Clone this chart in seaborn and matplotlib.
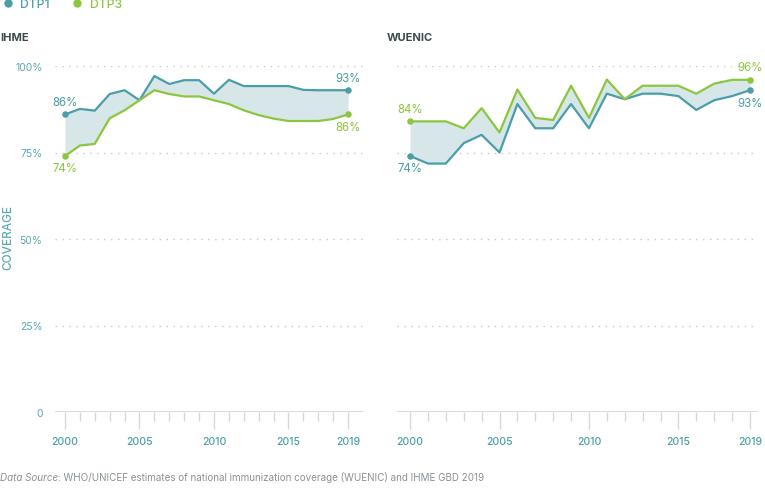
import pandas as pd
import matplotlib.pyplot as plt
import seaborn as sns
from matplotlib.lines import Line2D

# --- DATA ---
YEARS = list(range(2000, 2020))

IHME_DTP1 = [86, 87.6, 87.1, 91.9, 93.0, 90.1, 97.1, 94.8, 95.9, 95.9,
             92.0, 96.0, 94.2, 94.2, 94.2, 94.2, 93.1, 93, 93, 93]
IHME_DTP3 = [74, 77.0, 77.5, 84.9, 87.2, 90.1, 93.0, 91.9, 91.2, 91.2,
             90.1, 89.0, 87.2, 85.8, 84.8, 84.1, 84.1, 84.1, 84.7, 86]

WUENIC_DTP1 = [74, 71.8, 71.8, 77.7, 80.1, 75.0, 89.0, 82.0, 82.0, 89.0,
               82.0, 92.0, 90.4, 92.0, 92.0, 91.3, 87.3, 90.1, 91.3, 93]
WUENIC_DTP3 = [84, 84, 84, 82.0, 87.8, 80.8, 93.2, 85.0, 84.4, 94.3,
               85.0, 96.1, 90.4, 94.3, 94.3, 94.3, 92.0, 94.9, 96, 96]

SOURCES = ['IHME', 'WUENIC']
VACCINES = ['DTP1', 'DTP3']
MAJOR_YEARS = [2000, 2005, 2010, 2015, 2019]
Y_TICKS = [0, 25, 50, 75, 100]
Y_LABELS = ['0', '25%', '50%', '75%', '100%']

# --- STYLE ---
TEAL = '#4a9ea7'
GREEN = '#8cc63f'
FILL = '#d7e7e9'
LABEL_TEAL = '#5aa9b1'
GRID = '#c8c8c8'
BASE = '#d3d9db'
TITLE = '#3c4b50'
SOURCE_GRAY = '#8b9196'
COLORS = {'DTP1': TEAL, 'DTP3': GREEN}

sns.set_theme(style='white')
plt.rcParams['font.family'] = ['Inter', 'DejaVu Sans']

rows = []
for src, d1, d3 in [('IHME', IHME_DTP1, IHME_DTP3), ('WUENIC', WUENIC_DTP1, WUENIC_DTP3)]:
    for yr, a, b in zip(YEARS, d1, d3):
        rows.append({'source': src, 'year': yr, 'vaccine': 'DTP1', 'coverage': a})
        rows.append({'source': src, 'year': yr, 'vaccine': 'DTP3', 'coverage': b})
df = pd.DataFrame(rows)

fig = plt.figure(figsize=(7.65, 4.89), dpi=100)
ax_l = fig.add_axes([55 / 765, 76 / 489, 308 / 765, 346 / 489])
ax_r = fig.add_axes([397 / 765, 76 / 489, 361 / 765, 346 / 489])
axes = {'IHME': ax_l, 'WUENIC': ax_r}
xlims = {'IHME': (1999.33, 2020.0), 'WUENIC': (1999.27, 2019.45)}

# which endpoint label goes above (+) or below (-) the dot
label_side = {
    ('IHME', 'DTP1'): (1, 1), ('IHME', 'DTP3'): (-1, -1),
    ('WUENIC', 'DTP1'): (-1, -1), ('WUENIC', 'DTP3'): (1, 1),
}

for src in SOURCES:
    ax = axes[src]
    sub = df[df['source'] == src]
    wide = sub.pivot(index='year', columns='vaccine', values='coverage')
    ax.fill_between(wide.index, wide['DTP1'], wide['DTP3'], color=FILL, lw=0, zorder=1)
    sns.lineplot(data=sub, x='year', y='coverage', hue='vaccine', palette=COLORS,
                 linewidth=1.6, legend=False, ax=ax, zorder=3)

    for vac in VACCINES:
        vals = wide[vac]
        ends = [(YEARS[0], vals.iloc[0]), (YEARS[-1], vals.iloc[-1])]
        for (yr, v), side in zip(ends, label_side[(src, vac)]):
            ax.scatter([yr], [v], s=22, color=COLORS[vac], zorder=4, clip_on=False, lw=0)
            ax.annotate(f'{v:.0f}%', (yr, v), xytext=(0, 9 * side), textcoords='offset points',
                        ha='center', va='center', fontsize=8.3, color=COLORS[vac],
                        annotation_clip=False)

    ax.set_xlim(*xlims[src])
    ax.set_ylim(0, 100)
    ax.set_yticks(Y_TICKS)
    ax.set_yticklabels(Y_LABELS)
    ax.set_xticks(MAJOR_YEARS)
    ax.set_xticks(YEARS, minor=True)
    ax.set_xticklabels([str(y) for y in MAJOR_YEARS], fontweight='medium')
    ax.set_xlabel('')
    ax.set_ylabel('')
    for s in ax.spines.values():
        s.set_visible(False)
    ax.grid(axis='y', color=GRID, linestyle=(0, (1, 4)), linewidth=1)
    ax.grid(axis='x', visible=False)
    ax.axhline(0, color=BASE, lw=2, zorder=2)
    ax.tick_params(axis='x', which='major', direction='out', length=12, width=1,
                   color=BASE, labelcolor=TEAL, labelsize=7.5, pad=5, bottom=True)
    ax.tick_params(axis='x', which='minor', direction='out', length=6.5, width=1,
                   color=BASE, bottom=True)
    ax.tick_params(axis='y', length=0, labelcolor=LABEL_TEAL, labelsize=7.5, pad=9)
    ax.set_title('')

ax_r.tick_params(axis='y', labelleft=False)

fig.text(0, 1 - 38 / 489, 'IHME', fontsize=8, fontweight='bold', color=TITLE, va='center')
fig.text(387 / 765, 1 - 38 / 489, 'WUENIC', fontsize=8, fontweight='bold', color=TITLE, va='center')
fig.text(8 / 765, 1 - 238 / 489, 'COVERAGE', rotation=90, fontsize=8.5, color=LABEL_TEAL,
         fontweight='medium', va='center', ha='center')

handles = [Line2D([], [], marker='o', ls='', color=COLORS[v], markersize=5) for v in VACCINES]
fig.legend(handles, VACCINES, loc='center left', bbox_to_anchor=(-0.006, 1 - 5 / 489),
           ncol=2, frameon=False, prop={'size': 8.8, 'weight': 'medium'},
           handletextpad=0.05, columnspacing=1.2,
           labelcolor=[TEAL, GREEN], borderaxespad=0, borderpad=0)

t = fig.text(0, 8 / 489, 'Data Source', fontsize=7.1, style='italic', color=SOURCE_GRAY, va='baseline')
ax_l.annotate(': WHO/UNICEF estimates of national immunization coverage (WUENIC) and IHME GBD 2019',
              xy=(1, 0), xycoords=t, xytext=(0, 0), textcoords='offset points',
              fontsize=7.1, color=SOURCE_GRAY, va='bottom', ha='left', annotation_clip=False)

fig.savefig('out.png', dpi=100)
